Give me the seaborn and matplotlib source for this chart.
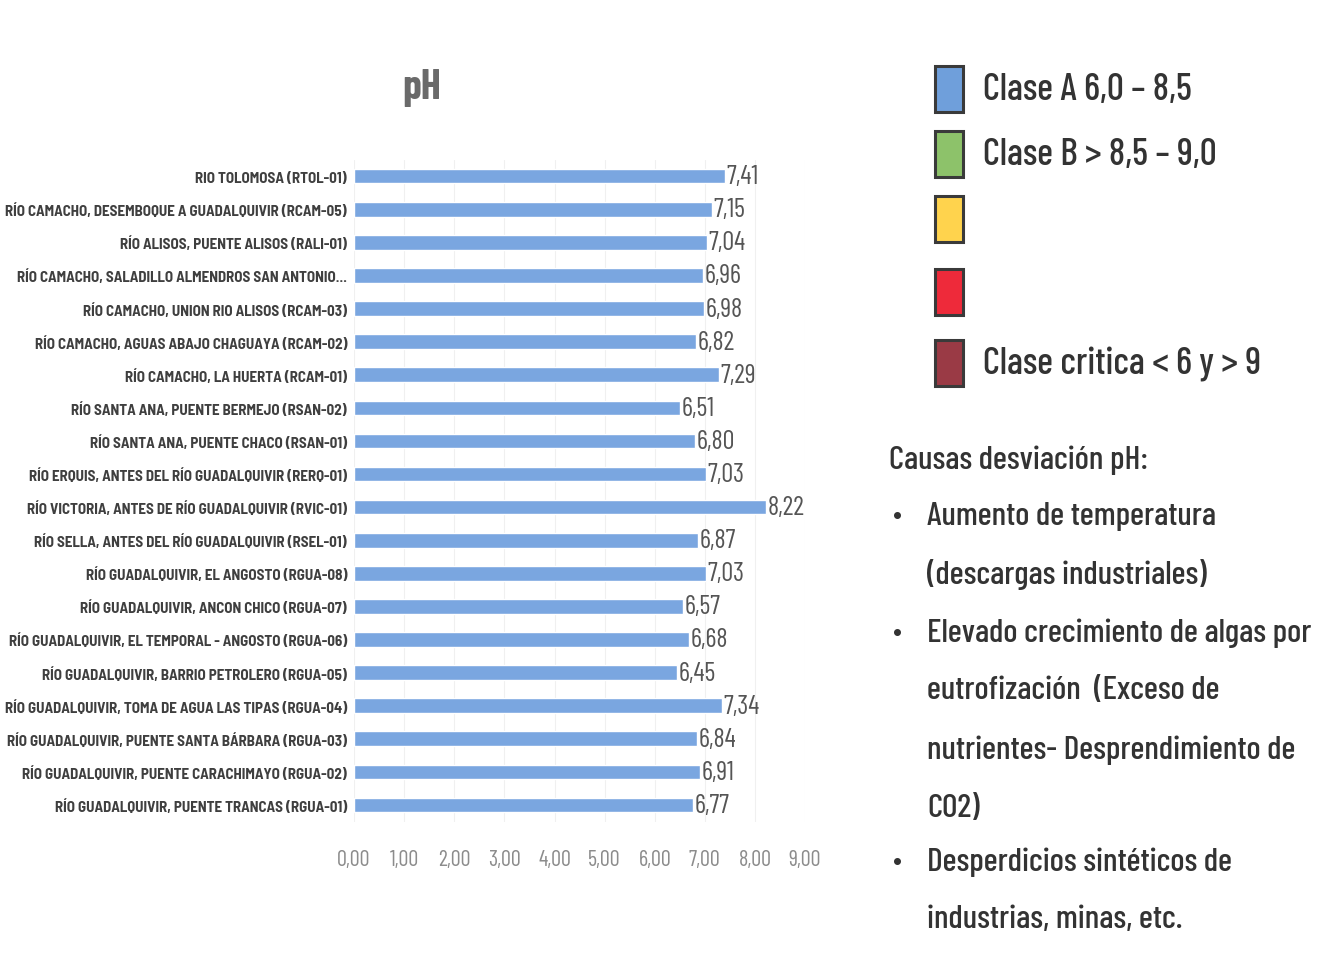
import matplotlib
matplotlib.use('Agg')
import matplotlib.pyplot as plt
import seaborn as sns
import pandas as pd
from matplotlib.patches import Rectangle

estaciones = [
    'RIO TOLOMOSA (RTOL-01)',
    'RÍO CAMACHO, DESEMBOQUE A GUADALQUIVIR (RCAM-05)',
    'RÍO ALISOS, PUENTE ALISOS (RALI-01)',
    'RÍO CAMACHO, SALADILLO ALMENDROS SAN ANTONIO...',
    'RÍO CAMACHO, UNION RIO ALISOS (RCAM-03)',
    'RÍO CAMACHO, AGUAS ABAJO CHAGUAYA (RCAM-02)',
    'RÍO CAMACHO, LA HUERTA (RCAM-01)',
    'RÍO SANTA ANA, PUENTE BERMEJO (RSAN-02)',
    'RÍO SANTA ANA, PUENTE CHACO (RSAN-01)',
    'RÍO ERQUIS, ANTES DEL RÍO GUADALQUIVIR (RERQ-01)',
    'RÍO VICTORIA, ANTES DE RÍO GUADALQUIVIR (RVIC-01)',
    'RÍO SELLA, ANTES DEL RÍO GUADALQUIVIR (RSEL-01)',
    'RÍO GUADALQUIVIR, EL ANGOSTO (RGUA-08)',
    'RÍO GUADALQUIVIR, ANCON CHICO (RGUA-07)',
    'RÍO GUADALQUIVIR, EL TEMPORAL - ANGOSTO (RGUA-06)',
    'RÍO GUADALQUIVIR, BARRIO PETROLERO (RGUA-05)',
    'RÍO GUADALQUIVIR, TOMA DE AGUA LAS TIPAS (RGUA-04)',
    'RÍO GUADALQUIVIR, PUENTE SANTA BÁRBARA (RGUA-03)',
    'RÍO GUADALQUIVIR, PUENTE CARACHIMAYO (RGUA-02)',
    'RÍO GUADALQUIVIR, PUENTE TRANCAS (RGUA-01)',
]
ph = [7.41, 7.15, 7.04, 6.96, 6.98, 6.82, 7.29, 6.51, 6.80, 7.03,
      8.22, 6.87, 7.03, 6.57, 6.68, 6.45, 7.34, 6.84, 6.91, 6.77]

clases = ['Clase A 6,0 – 8,5', 'Clase B > 8,5 – 9,0', '', '', 'Clase critica < 6 y > 9']
colores_clase = ['#6f9fdb', '#8dc26a', '#ffd34d', '#ee2a3a', '#9a3a45']

titulo_causas = 'Causas desviación pH:'
# (texto de la linea, lleva viñeta)
lineas_causas = [
    ('Aumento de temperatura', True),
    ('(descargas industriales)', False),
    ('Elevado crecimiento de algas por', True),
    ('eutrofización  (Exceso de', False),
    ('nutrientes- Desprendimiento de', False),
    ('CO2)', False),
    ('Desperdicios sintéticos de', True),
    ('industrias, minas, etc.', False),
]

sns.set_style('white')
plt.rcParams['font.family'] = ['Barlow Condensed', 'DejaVu Sans']

df = pd.DataFrame({'estacion': estaciones, 'ph': ph})

fig = plt.figure(figsize=(13.29, 9.62), dpi=100)
ax = fig.add_axes([0.2664, 0.145, 0.3394, 0.688])

sns.barplot(data=df, x='ph', y='estacion', orient='h', color='#7aa6e0',
            width=0.44, saturation=1, ax=ax)

ax.set_xlim(0, 9)
ax.set_xticks(range(10))
ax.set_xticklabels([f'{i},00' for i in range(10)], color='#8c8c8c', fontsize=16)
ax.tick_params(axis='x', length=0, pad=20)
ax.tick_params(axis='y', length=0, pad=5)
for t in ax.get_yticklabels():
    t.set_fontsize(10.8)
    t.set_fontweight('bold')
    t.set_family(['Barlow Semi Condensed', 'DejaVu Sans'])
    t.set_color('#3f3f3f')
ax.set_xlabel('')
ax.set_ylabel('')
ax.grid(axis='x', color='#f0f0f0', linewidth=0.8)
ax.set_axisbelow(True)
sns.despine(ax=ax, left=True, bottom=True)

ax.bar_label(ax.containers[0], labels=[f'{v:.2f}'.replace('.', ',') for v in ph],
             padding=1, fontsize=19, color='#555555')

fig.text(0.3175, 0.9085, 'pH', fontsize=30, fontweight='bold', color='#6a6a6a',
         ha='center', va='center')

# leyenda de clases
y_box = [0.9064, 0.8389, 0.7713, 0.6954, 0.6216]
for yb, lab, col in zip(y_box, clases, colores_clase):
    fig.patches.append(Rectangle((0.7035, yb - 0.024), 0.021, 0.048,
                                 transform=fig.transFigure, facecolor=col,
                                 edgecolor='#3a3a3a', linewidth=2.2))
    fig.text(0.7397, yb, lab, fontsize=27, fontweight='medium', color='#333333',
             va='center')

fig.text(0.669, 0.5218, titulo_causas, fontsize=24, fontweight='medium',
         color='#333333', va='center')
y_lin = [0.4636, 0.4023, 0.342, 0.2827, 0.2204, 0.160, 0.104, 0.0437]
for yl, (txt, vineta) in zip(y_lin, lineas_causas):
    if vineta:
        fig.text(0.6755, yl, '•', fontsize=22, color='#333333', va='center', ha='center')
    fig.text(0.6975, yl, txt, fontsize=24, fontweight='medium', color='#333333',
             va='center')

fig.savefig('out.png', dpi=100, facecolor='white')
